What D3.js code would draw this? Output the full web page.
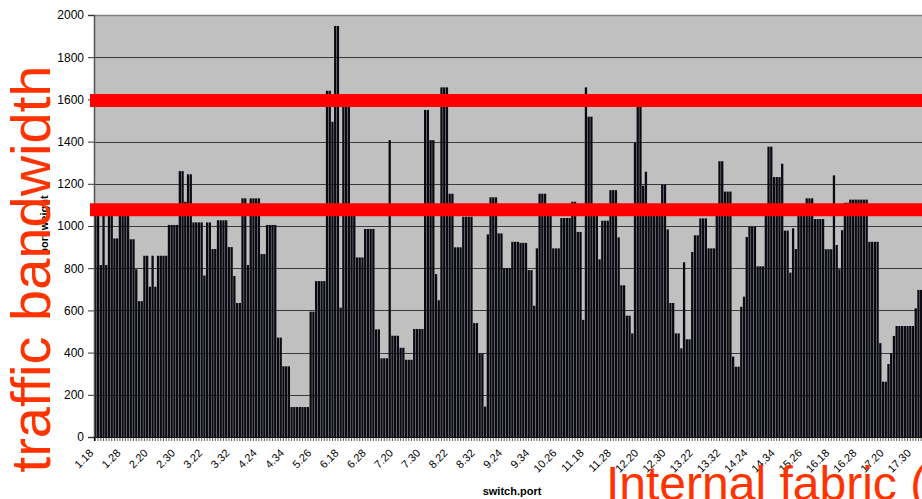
<!DOCTYPE html>
<html>
<head>
<meta charset="utf-8">
<script src="https://cdn.jsdelivr.net/npm/d3@7"></script>
<style>
  body { margin: 0; background: #ffffff; }
  svg { display: block; font-family: "Liberation Sans", Arial, sans-serif; }
</style>
</head>
<body>
<div id="chart"></div>
<script>
// switch.port categories: 17 switches, ports 18..35
const switches = [1, 2, 3, 4, 5, 6, 7, 8, 9, 10, 11, 12, 13, 14, 15, 16, 17];
const ports = [18, 19, 20, 21, 22, 23, 24, 25, 26, 27, 28, 29, 30, 31, 32, 33, 34, 35];
const categories = switches.flatMap(s => ports.map(p => `${s}.${p}`));

// port weight, one row per switch (ports 18..35)
const portWeight = [
  1080, 1080, 815, 1070, 815, 1070, 1070, 941, 941, 1060, 1060, 1060, 1060, 937, 937, 795, 644, 644,
  859, 859, 712, 859, 712, 859, 859, 859, 859, 1005, 1005, 1005, 1005, 1260, 1260, 1115, 1245, 1245,
  1017, 1017, 1017, 1017, 765, 1017, 1017, 891, 891, 1027, 1027, 1027, 1027, 900, 900, 763, 635, 635,
  1131, 1131, 815, 1131, 1131, 1131, 1131, 867, 867, 1005, 1005, 1005, 1005, 471, 471, 335, 335, 335,
  142, 142, 142, 142, 142, 142, 142, 594, 594, 739, 739, 739, 739, 1641, 1641, 1494, 1948, 1948,
  613, 1565, 1565, 1565, 1080, 1080, 851, 851, 851, 986, 986, 986, 986, 510, 510, 373, 373, 373,
  1407, 480, 480, 480, 423, 423, 366, 366, 366, 512, 512, 512, 512, 1550, 1550, 1407, 1407, 772,
  648, 1657, 1657, 1657, 1153, 1153, 899, 899, 899, 1044, 1044, 1044, 1044, 540, 540, 396, 396, 144,
  960, 1136, 1136, 1136, 965, 965, 800, 800, 800, 925, 925, 925, 920, 920, 920, 791, 791, 622,
  894, 1153, 1153, 1153, 1050, 1050, 894, 894, 894, 1038, 1038, 1038, 1038, 1115, 1115, 972, 972, 555,
  1657, 1518, 1518, 1050, 1050, 842, 1025, 1025, 1025, 1170, 1170, 1170, 946, 719, 719, 575, 575, 491,
  1395, 1580, 1580, 1191, 1257, 1050, 1050, 1050, 1050, 1050, 1196, 1196, 984, 635, 635, 491, 491, 420,
  828, 463, 463, 877, 956, 956, 1036, 1036, 1036, 894, 894, 894, 1060, 1307, 1307, 1163, 1163, 1163,
  381, 333, 333, 617, 665, 948, 997, 997, 997, 809, 809, 809, 1060, 1376, 1376, 1232, 1232, 1232,
  1295, 978, 978, 779, 989, 891, 1060, 1060, 1060, 1131, 1131, 1131, 1033, 1033, 1033, 1033, 890, 890,
  890, 1240, 910, 795, 980, 1110, 1110, 1125, 1125, 1125, 1125, 1125, 1125, 1125, 925, 925, 925, 925,
  445, 262, 262, 346, 397, 479, 526, 526, 526, 526, 526, 526, 526, 610, 697, 697, 697, 697
];

const tickLabels = ["1.18", "1.28", "2.20", "2.30", "3.22", "3.32", "4.24", "4.34", "5.26",
  "6.18", "6.28", "7.20", "7.30", "8.22", "8.32", "9.24", "9.34", "10.26", "11.18", "11.28",
  "12.20", "12.30", "13.22", "13.32", "14.24", "14.34", "15.26", "16.18", "16.28", "17.20", "17.30"];
const yTicks = [0, 200, 400, 600, 800, 1000, 1200, 1400, 1600, 1800, 2000];

// red bandwidth marks drawn over the chart
const bandwidthLevels = [1595, 1077];

const width = 922;
const height = 499;
const plot = { left: 94, right: 928, top: 15, bottom: 437 };

const svg = d3.select("#chart")
  .append("svg")
  .attr("width", width)
  .attr("height", height)
  .style("overflow", "hidden");

const x = d3.scaleBand().domain(categories).range([plot.left, plot.right]).paddingInner(0.16).paddingOuter(0.08);
const y = d3.scaleLinear().domain([0, 2000]).range([plot.bottom, plot.top]);

// plot area
svg.append("rect")
  .attr("x", plot.left).attr("y", plot.top)
  .attr("width", plot.right - plot.left).attr("height", plot.bottom - plot.top)
  .attr("fill", "#c0c0c0");

svg.append("line")
  .attr("x1", plot.left).attr("x2", plot.right)
  .attr("y1", plot.top + 0.5).attr("y2", plot.top + 0.5)
  .attr("stroke", "#808080").attr("stroke-width", 1.5);

svg.append("g")
  .selectAll("line")
  .data(yTicks.filter(d => d > 0 && d < 2000))
  .join("line")
  .attr("x1", plot.left).attr("x2", plot.right)
  .attr("y1", d => Math.round(y(d)) + 0.5)
  .attr("y2", d => Math.round(y(d)) + 0.5)
  .attr("stroke", "#3a3a3a")
  .attr("stroke-width", 1);

// bars
svg.append("g")
  .selectAll("rect")
  .data(portWeight)
  .join("rect")
  .attr("x", (d, i) => x(categories[i]))
  .attr("y", d => y(d))
  .attr("width", x.bandwidth())
  .attr("height", d => plot.bottom - y(d))
  .attr("fill", "#090912");

// y axis
const yAxis = svg.append("g")
  .attr("transform", `translate(${plot.left},0)`)
  .call(d3.axisLeft(y).tickValues(yTicks).tickFormat(d3.format("d")).tickSize(6).tickPadding(4));
yAxis.select(".domain").attr("stroke", "#555555").attr("stroke-width", 1.5);
yAxis.selectAll(".tick line").attr("stroke", "#333333");
yAxis.selectAll("text").attr("font-size", 12).attr("fill", "#000");

// x axis: small tick per port
const xMinor = svg.append("g")
  .attr("transform", `translate(0,${plot.bottom})`)
  .call(d3.axisBottom(x).tickSize(4).tickFormat(""));
xMinor.select(".domain").attr("stroke", "#000").attr("stroke-width", 1.2);
xMinor.selectAll(".tick line").attr("stroke", "#333").attr("stroke-width", 0.8);

// labels every 10th port, slanted
const labelGroups = svg.append("g")
  .selectAll("g")
  .data(tickLabels)
  .join("g")
  .attr("transform", d => `translate(${x(d) + x.bandwidth() / 2 - 4},${plot.bottom + 14})`);

labelGroups.append("text")
  .attr("transform", "rotate(-45)")
  .attr("text-anchor", "end")
  .attr("dy", "0.35em")
  .attr("font-size", 11)
  .attr("fill", "#000")
  .text(d => d);

// red annotation lines
svg.append("g")
  .selectAll("line")
  .data(bandwidthLevels)
  .join("line")
  .attr("x1", 90).attr("x2", width)
  .attr("y1", d => y(d)).attr("y2", d => y(d))
  .attr("stroke", "#ff0000")
  .attr("stroke-width", 13);

// axis titles
svg.append("text")
  .attr("x", 512).attr("y", 495)
  .attr("text-anchor", "middle")
  .attr("font-size", 11).attr("font-weight", "bold")
  .text("switch.port");

svg.append("text")
  .attr("transform", "translate(48,225) rotate(-90)")
  .attr("text-anchor", "middle")
  .attr("font-size", 11).attr("font-weight", "bold")
  .text("port weight");

// red overlay titles
svg.append("text")
  .attr("transform", "translate(50,269) rotate(-90)")
  .attr("text-anchor", "middle")
  .attr("font-size", 56)
  .attr("fill", "#ff3300")
  .text("traffic bandwidth");

svg.append("text")
  .attr("x", 606).attr("y", 500)
  .attr("font-size", 48)
  .attr("fill", "#ff3300")
  .text("Internal fabric (");
</script>
</body>
</html>
